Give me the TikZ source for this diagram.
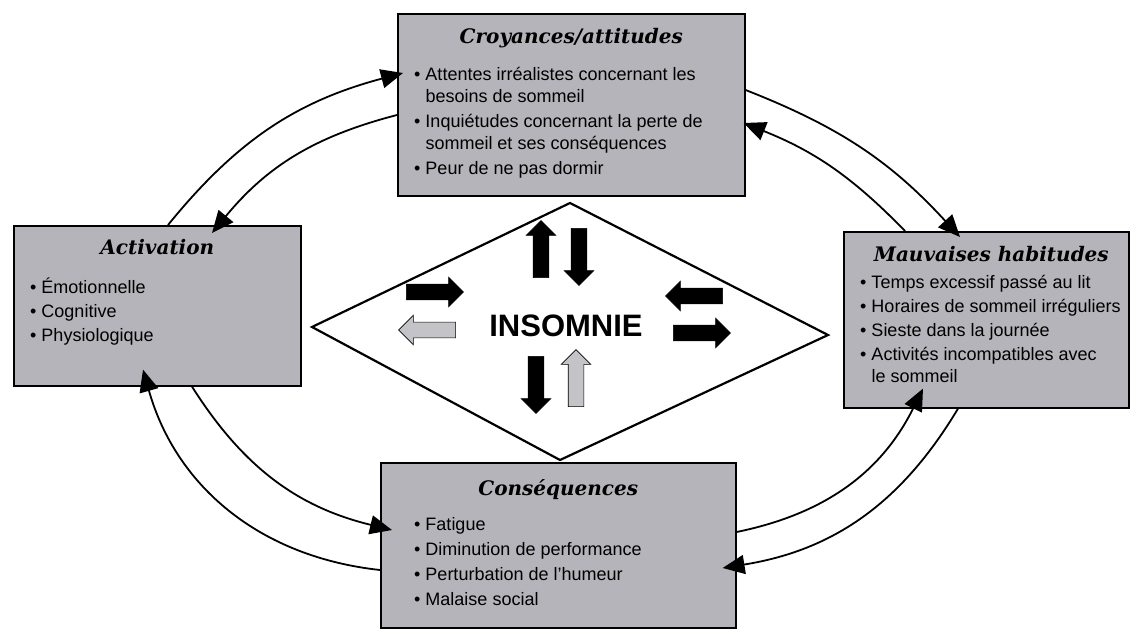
\documentclass[tikz,border=0pt]{standalone}
\usepackage{fontspec}
\setmainfont{Liberation Sans}
\newfontfamily\titlefont{DejaVu Serif}
\usepackage{tikz}
\usetikzlibrary{arrows.meta,shapes.arrows}

\definecolor{boxgrey}{RGB}{180,180,186}
\definecolor{arrgrey}{RGB}{196,196,200}

\tikzset{
  box/.style={draw, line width=1.6pt, fill=boxgrey, inner sep=0pt, anchor=north west},
  ttl/.style={anchor=base, inner sep=0pt, font=\titlefont\bfseries\itshape\fontsize{20}{24}\selectfont},
  lst/.style={anchor=north west, inner sep=0pt, align=left, font=\fontsize{18}{22}\selectfont},
  link/.style={line width=1.8pt, -{Triangle[length=22pt,width=19pt]}},
  blk/.style={single arrow, draw, fill=black, line width=0.6pt, inner sep=7.5pt,
    minimum height=57pt, single arrow head extend=7pt},
  gry/.style={blk, fill=arrgrey},
}
\newcommand{\bitem}{\textbullet\ }
\newcommand{\bcont}{\phantom{\textbullet\ }}
\newcommand{\bstrut}{\rule{0pt}{18pt}}

\begin{document}
\begin{tikzpicture}[x=1pt,y=1pt]
\useasboundingbox (0,0) rectangle (1132,630);

% boxes
\node[box, minimum width=347pt, minimum height=182pt] (croy) at (397,617) {};
\node[box, minimum width=287pt, minimum height=160pt] (act) at (13,405) {};
\node[box, minimum width=285pt, minimum height=176pt] (mauv) at (843,399) {};
\node[box, minimum width=355pt, minimum height=165pt] (cons) at (380,168) {};

% titles
\node[ttl] (croyT) at ([yshift=-31pt]croy.north) {Croyances/attitudes};
\node[ttl] (actT) at ([yshift=-30pt]act.north) {Activation};
\node[ttl] (mauvT) at ([xshift=5pt,yshift=-31pt]mauv.north) {Mauvaises habitudes};
\node[ttl] (consT) at ([yshift=-33pt]cons.north) {Conséquences};

% lists
\node[lst] (croyL) at ([xshift=17pt,yshift=-49pt]croy.north west) {\bstrut\bitem Attentes irréalistes concernant les\\
  \bcont besoins de sommeil\\[3pt]
  \bitem Inquiétudes concernant la perte de\\
  \bcont sommeil et ses conséquences\\[3pt]
  \bitem Peur de ne pas dormir};
\node[lst] (actL) at ([xshift=17pt,yshift=-50pt]act.north west) {\bstrut\bitem Émotionnelle\\[2pt]
  \bitem Cognitive\\[2pt]
  \bitem Physiologique};
\node[lst] (mauvL) at ([xshift=17pt,yshift=-39pt]mauv.north west) {\bstrut\bitem Temps excessif passé au lit\\[2pt]
  \bitem Horaires de sommeil irréguliers\\[2pt]
  \bitem Sieste dans la journée\\[2pt]
  \bitem Activités incompatibles avec\\
  \bcont le sommeil};
\node[lst] (consL) at ([xshift=34pt,yshift=-50pt]cons.north west) {\bstrut\bitem Fatigue\\[3pt]
  \bitem Diminution de performance\\[3pt]
  \bitem Perturbation de l'humeur\\[3pt]
  \bitem Malaise social};

% diamond
\coordinate (dT) at (570,427);
\coordinate (dR) at (828,295);
\coordinate (dB) at (560,170);
\coordinate (dL) at (312,303);
\draw[line width=2.2pt] (dT) -- (dR) -- (dB) -- (dL) -- cycle;
\node[inner sep=0pt, font=\bfseries\fontsize{31}{31}\selectfont] (ins) at (566,304) {INSOMNIE};

% block arrows
\node[blk, shape border rotate=90] (upA) at (541,377) {};
\node[blk, shape border rotate=270] (downA) at (579,377) {};
\node[blk] (rightA) at (431,338) {};
\node[gry, shape border rotate=180] (leftA) at (431,300) {};
\node[blk, shape border rotate=180] (leftB) at (698,334) {};
\node[blk] (rightB) at (698,297) {};
\node[blk, shape border rotate=270] (downB) at (536,249) {};
\node[gry, shape border rotate=90] (upB) at (576,248) {};

% cycle arrows
\draw[link] ([xshift=155pt]act.north west) to[bend left=18] ([xshift=6pt,yshift=-60pt]croy.north west);
\draw[link] ([yshift=-102pt]croy.north west) to[bend right=18] ([xshift=199pt,yshift=-8pt]act.north west);
\draw[link] ([yshift=-77pt]croy.north east) to[bend left=13] ([xshift=117pt,yshift=-6pt]mauv.north west);
\draw[link] ([xshift=62pt]mauv.north west) to[bend right=12] ([xshift=-2pt,yshift=-110pt]croy.north east);
\draw[link] ([yshift=-70pt]cons.north east) to[bend right=26] ([xshift=80pt,yshift=20pt]mauv.south west);
\draw[link] ([xshift=115pt]mauv.south west) to[bend left=25] ([xshift=-14pt,yshift=-106pt]cons.north east);
\draw[link] ([yshift=-108pt]cons.north west) to[bend left=34] ([xshift=130pt,yshift=17pt]act.south west);
\draw[link] ([xshift=179pt]act.south west) to[bend right=22] ([xshift=12pt,yshift=-68pt]cons.north west);
\end{tikzpicture}
\end{document}
